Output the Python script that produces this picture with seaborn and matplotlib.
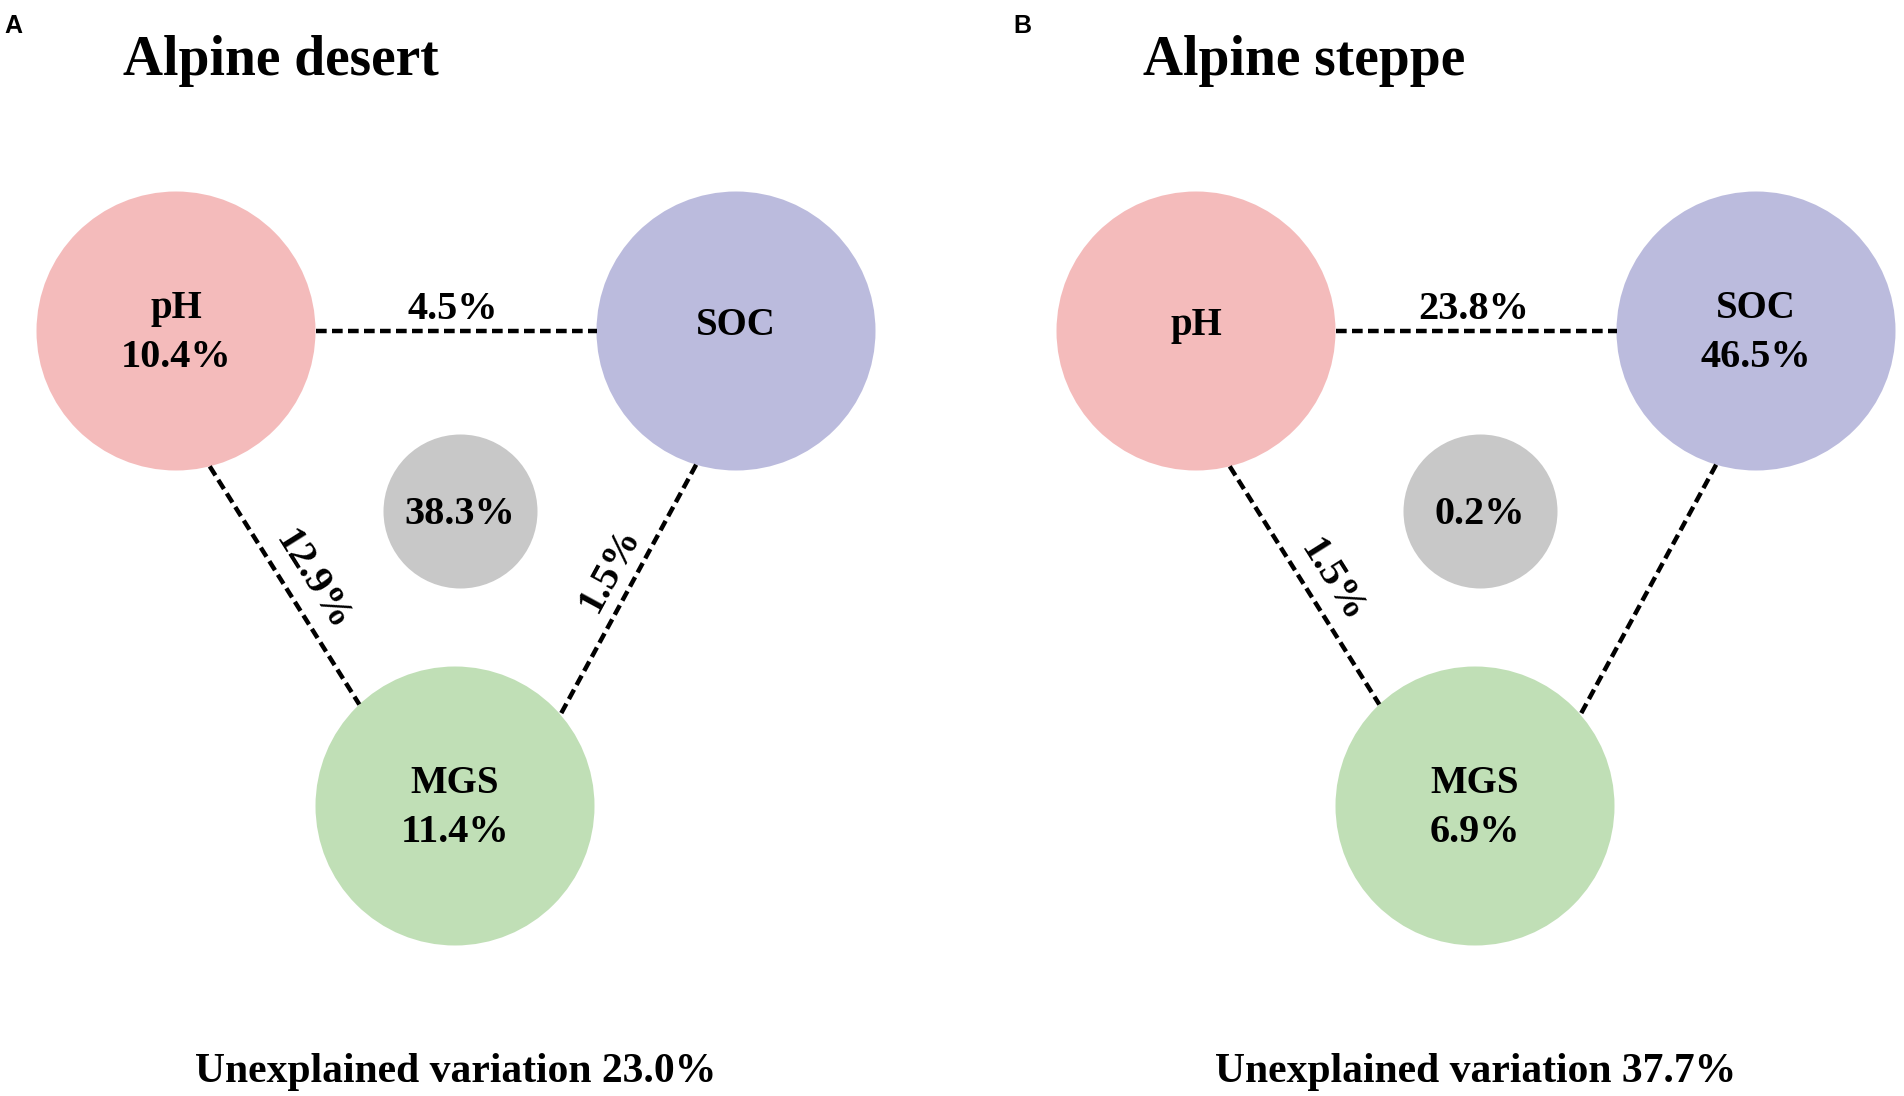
import numpy as np
import pandas as pd
import seaborn as sns
import matplotlib.pyplot as plt

# === Data ===
PANELS      = ['Alpine desert', 'Alpine steppe']
TAGS        = ['A', 'B']
FACTORS     = ['pH', 'SOC', 'MGS']
PH_ONLY     = [10.4, None]     # unique fractions (None = not shown)
SOC_ONLY    = [None, 46.5]
MGS_ONLY    = [11.4, 6.9]
PH_SOC      = [4.5, 23.8]      # shared between two factors
PH_MGS      = [12.9, 1.5]
SOC_MGS     = [1.5, None]
ALL_THREE   = [38.3, 0.2]      # shared by all three
UNEXPLAINED = [23.0, 37.7]

# === Layout (pixels, y pointing down) ===
W, H      = 1904, 1096
PANEL_DX  = 1020
TAG_X     = [4, 1013]
CENTERS   = {'pH': (176, 331), 'SOC': (736, 331), 'MGS': (455, 806)}
MID_XY    = (460, 511)
R_BIG     = 139.5
R_SMALL   = 77
PALETTE   = {'pH': '#F4BBBB', 'SOC': '#BBBBDD', 'MGS': '#C0DFB6'}
GREY      = '#C8C8C8'
# connector: factor a, factor b, angle on a, angle on b, values, label position t, label offset
EDGES = [('pH', 'SOC', 0, 180, PH_SOC, 0.49, 12),
         ('pH', 'MGS', 76, 226.7, PH_MGS, 0.54, 16),
         ('SOC', 'MGS', 106.6, -40.9, SOC_MGS, 0.47, 16)]

SERIF = ['Liberation Serif', 'DejaVu Serif']
SANS  = ['Liberation Sans', 'DejaVu Sans']

sns.set_theme(style='white')
plt.rcParams['font.family'] = SERIF
plt.rcParams['text.color'] = 'black'

fig = plt.figure(figsize=(W / 100, H / 100), dpi=100)
ax = fig.add_axes([0, 0, 1, 1])
ax.set_xlim(0, W)
ax.set_ylim(H, 0)
ax.axis('off')

unique = {'pH': PH_ONLY, 'SOC': SOC_ONLY, 'MGS': MGS_ONLY}
pt = 72 / 100  # points per pixel


def pct(v):
    return f"{v:.1f}%"


for i, panel in enumerate(PANELS):
    dx = i * PANEL_DX

    # circles
    circ = pd.DataFrame({
        'factor': FACTORS,
        'x': [CENTERS[f][0] + dx for f in FACTORS],
        'y': [CENTERS[f][1] for f in FACTORS],
    })
    sns.scatterplot(data=circ, x='x', y='y', hue='factor', palette=PALETTE,
                    s=(2 * R_BIG * pt) ** 2, linewidth=0, legend=False, ax=ax, zorder=1)
    mid = pd.DataFrame({'x': [MID_XY[0] + dx], 'y': [MID_XY[1]]})
    sns.scatterplot(data=mid, x='x', y='y', color=GREY,
                    s=(2 * R_SMALL * pt) ** 2, linewidth=0, legend=False, ax=ax, zorder=1)

    # circle labels
    for f in FACTORS:
        cx, cy = CENTERS[f][0] + dx, CENTERS[f][1]
        v = unique[f][i]
        if v is None:
            ax.text(cx, cy + 4, f, ha='center', va='baseline', fontsize=28, fontweight='bold', zorder=3)
        else:
            ax.text(cx, cy - 13, f, ha='center', va='baseline', fontsize=28, fontweight='bold', zorder=3)
            ax.text(cx, cy + 36, pct(v), ha='center', va='baseline', fontsize=29, fontweight='bold', zorder=3)
    ax.text(MID_XY[0] + dx, MID_XY[1] + 13, pct(ALL_THREE[i]), ha='center', va='baseline',
            fontsize=29, fontweight='bold', zorder=3)

    # dashed connectors
    for a, b, ang_a, ang_b, vals, t, off in EDGES:
        ax_, ay_ = CENTERS[a]
        bx_, by_ = CENTERS[b]
        x0 = ax_ + dx + R_BIG * np.cos(np.radians(ang_a))
        y0 = ay_ + R_BIG * np.sin(np.radians(ang_a))
        x1 = bx_ + dx + R_BIG * np.cos(np.radians(ang_b))
        y1 = by_ + R_BIG * np.sin(np.radians(ang_b))
        ax.plot([x0, x1], [y0, y1], color='black', lw=3.2, linestyle=(0, (2.4, 1.2)),
                dash_capstyle='butt', zorder=2)
        v = vals[i]
        if v is None:
            continue
        theta = np.degrees(np.arctan2(-(y1 - y0), x1 - x0))
        if theta > 90:
            theta -= 180
        elif theta < -90:
            theta += 180
        th = np.radians(theta)
        nx, ny = -np.sin(th), -np.cos(th)  # "up" of the text in pixel coords
        px = x0 + t * (x1 - x0) + off * nx
        py = y0 + t * (y1 - y0) + off * ny
        ax.text(px, py, pct(v), ha='center', va='baseline', rotation=theta,
                rotation_mode='anchor', fontsize=29, fontweight='bold', zorder=3)

    # titles and notes
    ax.text(TAG_X[i], 33, TAGS[i], ha='left', va='baseline', fontsize=18,
            fontweight='bold', family=SANS)
    ax.text(123 + dx, 75, panel, ha='left', va='baseline', fontsize=40, fontweight='bold')
    ax.text(456 + dx, 1082, f"Unexplained variation {pct(UNEXPLAINED[i])}",
            ha='center', va='baseline', fontsize=30, fontweight='bold')

fig.savefig('out.png', dpi=100, facecolor='white')
